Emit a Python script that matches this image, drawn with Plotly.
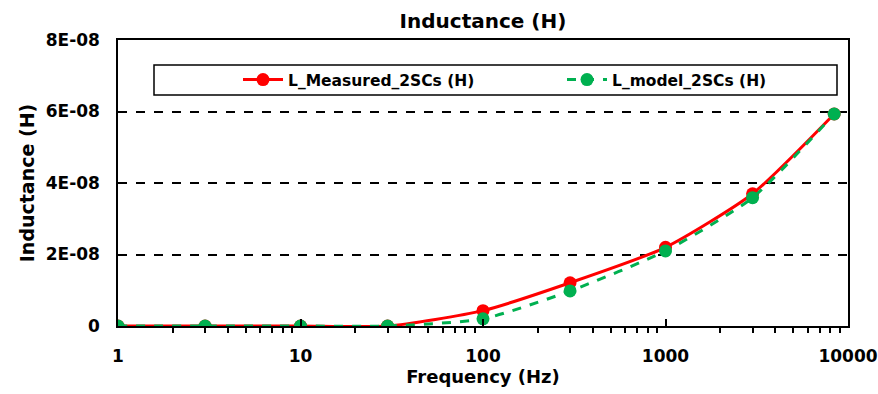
import plotly.graph_objects as go

freq = [1, 3, 10, 30, 100, 300, 1000, 3000, 8400]
l_measured = [0, 0, 0, 0, 0.43e-8, 1.21e-8, 2.2e-8, 3.7e-8, 5.93e-8]
l_model = [0, 0, 0, 0, 0.2e-8, 0.98e-8, 2.1e-8, 3.59e-8, 5.93e-8]
y_tickvals = [0, 2e-8, 4e-8, 6e-8, 8e-8]
y_ticktext = ["0", "2E-08", "4E-08", "6E-08", "8E-08"]
x_tickvals = [1, 10, 100, 1000, 10000]
x_ticktext = ["1", "10", "100", "1000", "10000"]
x_minor_vals = [k * 10 ** d for d in range(4) for k in range(2, 10)]

FONT = "DejaVu Sans"

fig = go.Figure()
fig.add_trace(go.Scatter(
    x=freq, y=l_measured, name="<b>L_Measured_2SCs (H)</b>", mode="lines+markers",
    line=dict(color="#ff0000", width=3, shape="spline", smoothing=0.6),
    marker=dict(color="#ff0000", size=13), legend="legend",
))
fig.add_trace(go.Scatter(
    x=freq, y=l_model, name="<b>L_model_2SCs (H)</b>", mode="lines+markers",
    line=dict(color="#00b050", width=3, dash="dash", shape="spline", smoothing=0.6),
    marker=dict(color="#00b050", size=13), legend="legend2",
))

leg_common = dict(orientation="h", y=0.86, xanchor="left", yanchor="middle",
                  bgcolor="rgba(0,0,0,0)", borderwidth=0,
                  font=dict(size=15.5, family=FONT), itemwidth=40)

fig.update_layout(
    width=878, height=394,
    margin=dict(l=118, r=30, t=40, b=68),
    paper_bgcolor="white", plot_bgcolor="white",
    font=dict(family=FONT, color="black", size=16),
    title=dict(text="<b>Inductance (H)</b>", x=0.5, xanchor="center", xref="paper",
               y=1 - 20.5 / 394, yanchor="middle", font=dict(size=20, family=FONT)),
    showlegend=True,
    legend=dict(x=(238 - 118) / 730, **leg_common),
    legend2=dict(x=(562 - 118) / 730, **leg_common),
    shapes=[dict(type="rect", xref="paper", yref="paper",
                 x0=(154 - 118) / 730, x1=(837 - 118) / 730,
                 y0=(326 - 95) / 286, y1=(326 - 65) / 286,
                 line=dict(color="black", width=1.5), fillcolor="white", layer="below")],
)

fig.update_xaxes(
    type="log", range=[0, 4], automargin=False,
    tickvals=x_tickvals, ticktext=["<b>%s</b>" % t for t in x_ticktext],
    ticks="inside", ticklen=7, tickwidth=1.5, tickcolor="black",
    minor=dict(tickvals=x_minor_vals, ticks="outside", ticklen=5, tickwidth=1.5,
               tickcolor="black", showgrid=False),
    showgrid=False, showline=True, linecolor="black", linewidth=1.5, mirror=True,
    tickfont=dict(size=17, family=FONT), zeroline=False, ticklabelstandoff=14,
    title=dict(text="<b>Frequency (Hz)</b>", font=dict(size=18, family=FONT), standoff=3),
)
fig.update_yaxes(
    range=[0, 8e-8], automargin=False,
    tickvals=y_tickvals, ticktext=["<b>%s</b>" % t for t in y_ticktext],
    ticks="inside", ticklen=9, tickwidth=1.5, tickcolor="black",
    showgrid=True, gridcolor="black", gridwidth=1.5, griddash="dash",
    showline=True, linecolor="black", linewidth=1.5, mirror=True,
    tickfont=dict(size=17, family=FONT), zeroline=False, ticklabelstandoff=13,
    title=dict(text="<b>Inductance (H)</b>", font=dict(size=19, family=FONT), standoff=6),
)

fig.write_html("out.html")
